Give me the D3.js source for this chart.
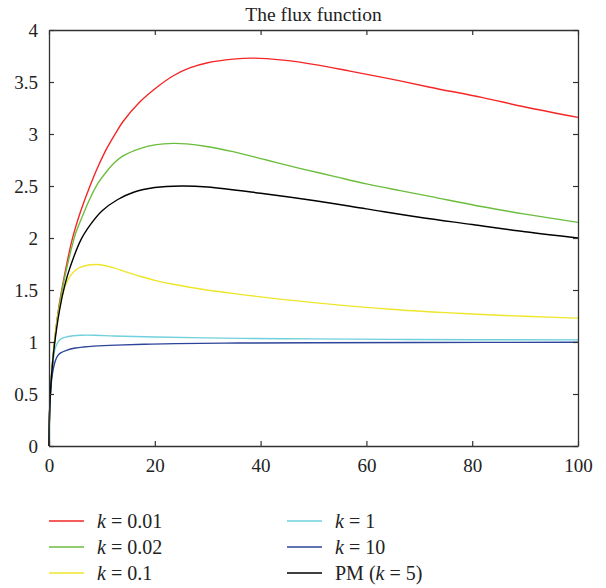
<!DOCTYPE html>
<html>
<head>
<meta charset="utf-8">
<script src="https://cdn.jsdelivr.net/npm/d3@7"></script>
<style>
  body { margin: 0; background: #fff; }
  svg { display: block; }
  text { font-family: "Liberation Serif", "DejaVu Serif", serif; fill: #222; }
</style>
</head>
<body>
<div id="chart"></div>
<script>
// curves, [x, y] pairs
const fluxK001 = [[0,0],[0.1,0.3],[0.3,0.54],[0.6,0.76],[1,0.98],[1.5,1.2],[2,1.38],[3,1.66],[4.3,1.97],[5,2.1],[6,2.26],[7.75,2.5],[9.3,2.69],[10.9,2.86],[12.5,3.0],[14,3.12],[17.2,3.31],[20.4,3.45],[23.5,3.56],[26.6,3.635],[30,3.685],[34.8,3.72],[38.6,3.73],[44.3,3.71],[50.6,3.665],[56.9,3.605],[64.5,3.53],[72,3.45],[82,3.35],[90,3.26],[100,3.16]];
const fluxK002 = [[0,0],[0.1,0.3],[0.3,0.54],[0.6,0.76],[1,0.98],[1.5,1.2],[2,1.37],[3,1.63],[4.6,1.97],[5,2.04],[6,2.17],[7.75,2.38],[9.3,2.53],[10.9,2.64],[12.5,2.73],[14,2.79],[17.2,2.86],[20,2.895],[23.5,2.91],[26,2.905],[29.8,2.88],[34.8,2.83],[41.1,2.75],[47.4,2.67],[53.7,2.595],[60,2.52],[66.4,2.455],[72,2.4],[82,2.3],[90,2.23],[100,2.15]];
const fluxK01 = [[0,0],[0.1,0.3],[0.3,0.54],[0.6,0.75],[1,0.97],[1.5,1.18],[2,1.33],[3,1.53],[4.1,1.64],[5,1.69],[6,1.72],[7.5,1.74],[9,1.745],[10.5,1.735],[12.3,1.712],[14.5,1.675],[17.2,1.632],[20,1.593],[23.5,1.555],[29.8,1.5],[36.1,1.458],[45,1.405],[55,1.355],[64.5,1.315],[75,1.282],[82,1.264],[90,1.247],[100,1.23]];
const fluxK1 = [[0,0],[0.1,0.3],[0.3,0.52],[0.6,0.72],[1,0.9],[1.3,0.96],[2,1.02],[3,1.045],[4.6,1.06],[6,1.065],[8.5,1.065],[12.3,1.058],[20,1.048],[36,1.035],[50,1.03],[64.5,1.025],[80,1.022],[100,1.02]];
const fluxK10 = [[0,0],[0.1,0.3],[0.25,0.48],[0.5,0.64],[0.8,0.74],[1.2,0.82],[1.6,0.865],[2.2,0.895],[3.3,0.92],[5,0.942],[6.5,0.952],[8.5,0.96],[12.8,0.97],[18,0.978],[24,0.984],[36,0.99],[50,0.993],[70,0.995],[100,0.997]];
const fluxPM = [[0,0],[0.1,0.32],[0.25,0.5],[0.5,0.69],[1,0.96],[2,1.31],[3,1.55],[4,1.72],[6,1.98],[8,2.14],[10,2.26],[13,2.37],[16,2.44],[20,2.485],[25,2.5],[30,2.49],[40,2.43],[50,2.36],[60,2.28],[70,2.2],[80,2.13],[90,2.06],[100,2]];

const xTicks = [0, 20, 40, 60, 80, 100];
const yTicks = [0, 0.5, 1, 1.5, 2, 2.5, 3, 3.5, 4];

const seriesList = [
  { k: "0.01", pre: "", post: "", data: fluxK001, color: "#f42626" },
  { k: "0.02", pre: "", post: "", data: fluxK002, color: "#6cbd3e" },
  { k: "0.1",  pre: "", post: "", data: fluxK01,  color: "#eee62a" },
  { k: "1",    pre: "", post: "", data: fluxK1,   color: "#70d0dc" },
  { k: "10",   pre: "", post: "", data: fluxK10,  color: "#2c4499" },
  { k: "5",    pre: "PM (", post: ")", data: fluxPM, color: "#000000" }
];

const width = 606, height = 588;
const svg = d3.select("#chart").append("svg")
  .attr("width", width)
  .attr("height", height);

const x = d3.scaleLinear().domain([0, 100]).range([49, 578]);
const y = d3.scaleLinear().domain([0, 4]).range([446, 30]);

// title
svg.append("text")
  .attr("x", (x.range()[0] + x.range()[1]) / 2)
  .attr("y", 21)
  .attr("text-anchor", "middle")
  .style("font-size", "19.5px")
  .text("The flux function");

// curves
const line = d3.line()
  .x(d => x(d[0]))
  .y(d => y(d[1]))
  .curve(d3.curveCatmullRom.alpha(0.5));

svg.append("g").selectAll("path")
  .data(seriesList)
  .join("path")
  .attr("d", d => line(d.data))
  .attr("fill", "none")
  .attr("stroke", d => d.color)
  .attr("stroke-width", 1.4);

// box with inward ticks on all four sides
function styleAxis(g) {
  g.selectAll("path.domain").attr("stroke", "#333").attr("stroke-width", 1.3);
  g.selectAll(".tick line").attr("stroke", "#333").attr("stroke-width", 1.2);
  g.selectAll("text").style("font-size", "19px").attr("fill", "#222")
    .style("font-family", '"Liberation Serif", "DejaVu Serif", serif');
}

svg.append("g")
  .attr("transform", `translate(0,${y(0)})`)
  .call(d3.axisBottom(x).tickValues(xTicks).tickSizeInner(-5).tickSizeOuter(0).tickPadding(13))
  .call(styleAxis);

svg.append("g")
  .attr("transform", `translate(0,${y(4)})`)
  .call(d3.axisTop(x).tickValues(xTicks).tickSizeInner(-5).tickSizeOuter(0).tickFormat(""))
  .call(styleAxis);

svg.append("g")
  .attr("transform", `translate(${x(0)},0)`)
  .call(d3.axisLeft(y).tickValues(yTicks).tickSizeInner(-5).tickSizeOuter(0).tickPadding(11).tickFormat(d3.format("")))
  .call(styleAxis);

svg.append("g")
  .attr("transform", `translate(${x(100)},0)`)
  .call(d3.axisRight(y).tickValues(yTicks).tickSizeInner(-5).tickSizeOuter(0).tickFormat(""))
  .call(styleAxis);

// legend, two columns of three
const legend = svg.append("g");
const item = legend.selectAll("g")
  .data(seriesList)
  .join("g")
  .attr("transform", (d, i) => `translate(${i < 3 ? 49 : 287},${521 + (i % 3) * 26})`);

item.append("line")
  .attr("x1", 0).attr("x2", 35)
  .attr("stroke", d => d.color)
  .attr("stroke-width", 1.4);

const label = item.append("text")
  .attr("x", 48)
  .attr("dy", "0.35em")
  .style("font-size", "20px");
label.append("tspan").text(d => d.pre);
label.append("tspan").style("font-style", "italic").text("k");
label.append("tspan").text(d => " = " + d.k + d.post);
</script>
</body>
</html>
